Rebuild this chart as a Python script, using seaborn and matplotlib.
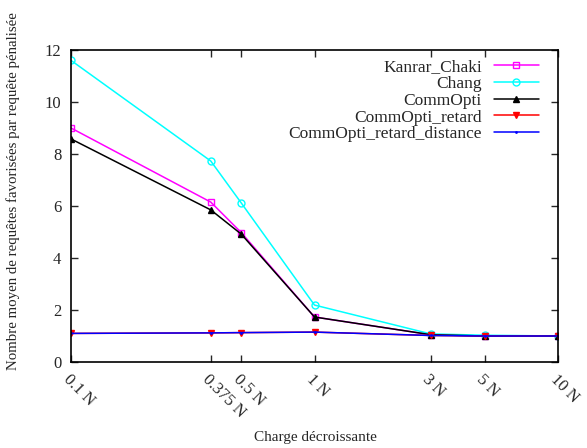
import matplotlib
matplotlib.use("Agg")
import matplotlib.pyplot as plt
import seaborn as sns
import pandas as pd
import numpy as np

loads = [0.1, 0.375, 0.5, 1, 3, 5, 10]
tick_labels = ["0.1 N", "0.375 N", "0.5 N", "1 N", "3 N", "5 N", "10 N"]
kanrar = [9.0, 6.15, 4.98, 1.73, 1.05, 1.0, 1.0]
chang = [11.6, 7.73, 6.12, 2.19, 1.08, 1.03, 1.0]
commopti = [8.58, 5.85, 4.92, 1.73, 1.05, 1.0, 1.0]
retard = [1.1, 1.12, 1.13, 1.15, 1.02, 1.0, 1.0]
retard_dist = [1.1, 1.12, 1.13, 1.15, 1.02, 1.0, 1.0]

sns.set_style("ticks")
plt.rcParams['font.family'] = ['Liberation Serif', 'DejaVu Serif']

fig = plt.figure(figsize=(5.87, 4.48), dpi=100)
ax = fig.add_axes([71/587, 1-362/448, (558-71)/587, (362-50)/448])

series = [
    ("Kanrar_Chaki", kanrar, "#ff00ff", "s", "none", 5),
    ("Chang", chang, "#00ffff", "o", "none", 5),
    ("CommOpti", commopti, "#000000", "^", "#000000", 5),
    ("CommOpti_retard", retard, "#ff0000", "v", "#ff0000", 5),
    ("CommOpti_retard_distance", retard_dist, "#0000ff", ".", "#0000ff", 2),
]
for name, vals, col, mk, mfc, ms in series:
    df = pd.DataFrame({"x": loads, "y": vals})
    sns.lineplot(data=df, x="x", y="y", ax=ax, color=col, marker=mk,
                 markerfacecolor=mfc, markeredgecolor=col, markersize=ms,
                 markeredgewidth=1, linewidth=1.1, label=name)

ax.set_xscale("log")
ax.set_xlim(0.1, 10)
ax.set_ylim(0, 12)
ax.set_xticks(loads)
ax.set_xticks([], minor=True)
ax.set_xticklabels(tick_labels, rotation=-45, ha="left", va="top",
                   rotation_mode="anchor", fontsize=12)
ax.set_yticks(range(0, 13, 2))
ax.tick_params(axis="y", labelsize=12)
ax.tick_params(direction="in", top=True, right=True, length=5, width=1, pad=7)
ax.tick_params(axis="x", which="minor", length=0)
for s in ax.spines.values():
    s.set_linewidth(1.2)
    s.set_color("black")

ax.set_xlabel("Charge décroissante", fontsize=11)
ax.set_ylabel("Nombre moyen de requêtes favorisées par requête pénalisée",
              fontsize=10.7)
ax.xaxis.set_label_coords((315-71)/487, (362-437)/312)
ax.yaxis.set_label_coords((13-71)/487, (362-191)/312)
ax.xaxis.label.set_va("center")
ax.yaxis.label.set_va("center")

ax.legend(loc="upper right", frameon=False, markerfirst=False, fontsize=12.5,
          handlelength=2.6, labelspacing=0.03, borderaxespad=0.3,
          handletextpad=0.7, bbox_to_anchor=(0.986, 1.009))

fig.savefig("out.png", dpi=100)
